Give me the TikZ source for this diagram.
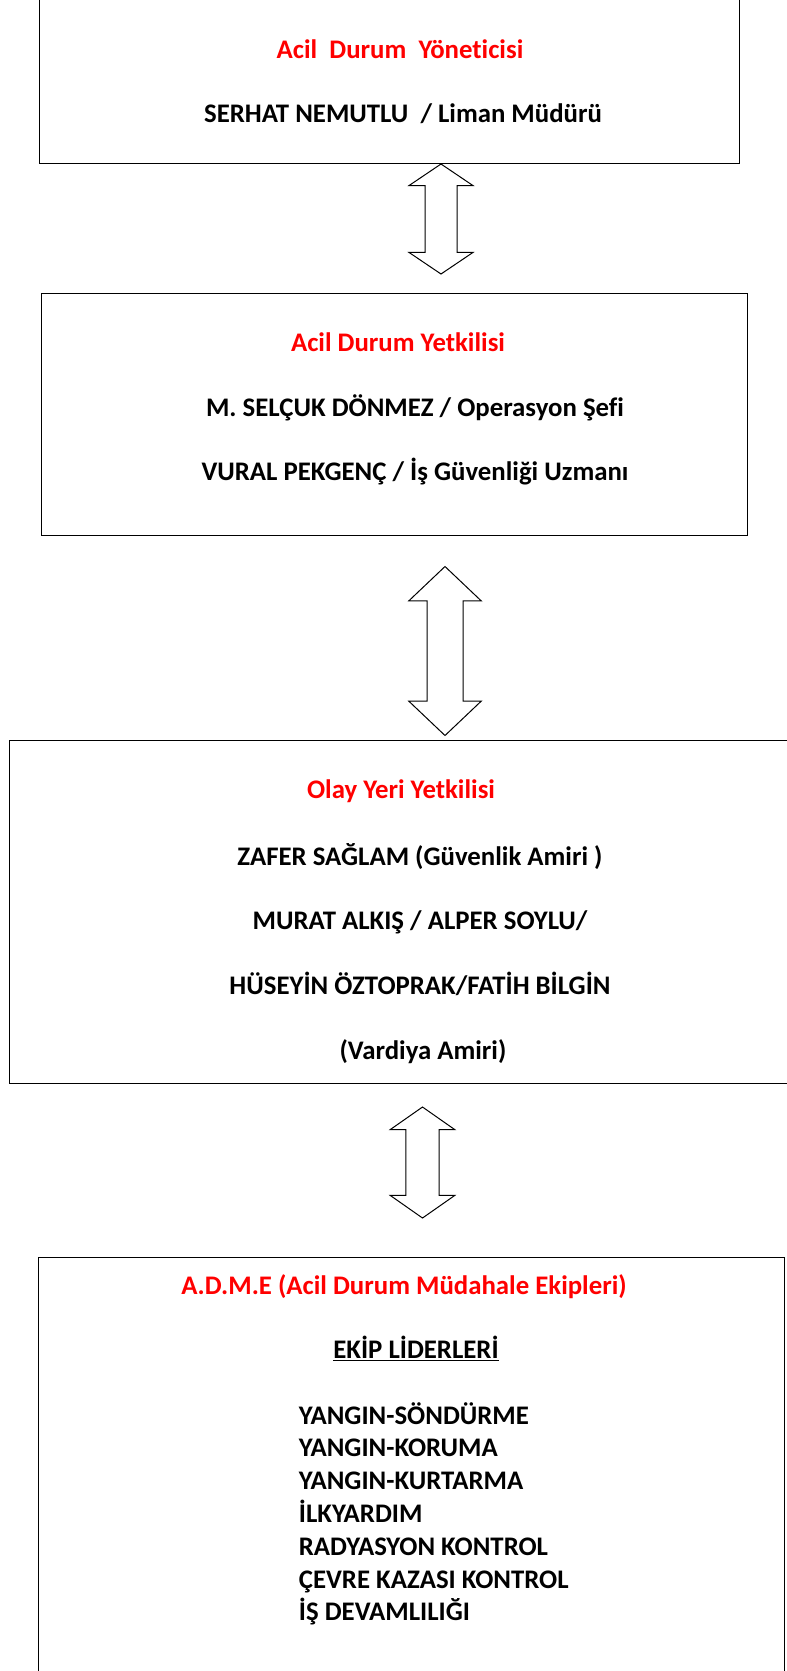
\documentclass[tikz,border=0pt]{standalone}
\usepackage{fontspec}
\setmainfont{Carlito}[Ligatures=NoCommon]
\usetikzlibrary{shapes.arrows}

\begin{document}
\begin{tikzpicture}[
  x=1pt, y=-1pt,
  font=\fontsize{26.8}{32.8}\selectfont\bfseries,
  box/.style={draw, line width=1pt, inner sep=0pt},
  heading/.style={text=red, anchor=base},
  entry/.style={anchor=base},
  dbl/.style={draw, line width=1pt, shape=double arrow, rotate=90,
              minimum width=0pt, inner sep=#1}
]
\useasboundingbox (0,0) rectangle (787,1671);
% frames
\node[box, minimum width=699.8pt, minimum height=168pt] (yonetici) at (389.1,79) {};
\node[box, minimum width=706pt, minimum height=242pt] (yetkili) at (394,414.6) {};
\node[box, minimum width=781pt, minimum height=342.3pt] (olayyeri) at (399.5,911.9) {};
\node[box, minimum width=745.3pt, minimum height=423pt] (adme) at (411.4,1468.5) {};
% texts
\node[heading] (yontit) at (400,58) {Acil\ \ Durum\ \ Yöneticisi};
\node[entry] (serhat) at (403,122) {SERHAT NEMUTLU\ \ / Liman Müdürü};
\node[heading] (yettit) at (398,351) {Acil Durum Yetkilisi};
\node[entry] (selcuk) at (415,416) {M. SELÇUK DÖNMEZ / Operasyon Şefi};
\node[entry] (vural) at (415,480) {VURAL PEKGENÇ / İş Güvenliği Uzmanı};
\node[heading] (olaytit) at (401,798) {Olay Yeri Yetkilisi};
\node[entry] (zafer) at (420,865) {ZAFER SAĞLAM (Güvenlik Amiri )};
\node[entry] (murat) at (420,929) {MURAT ALKIŞ / ALPER SOYLU/};
\node[entry] (huseyin) at (420,994) {HÜSEYİN ÖZTOPRAK/FATİH BİLGİN};
\node[entry] (vardiya) at (423,1059) {(Vardiya Amiri)};
\node[heading] (admetit) at (404,1294.5) {A.D.M.E (Acil Durum Müdahale Ekipleri)};
\node[entry] (lider) at (416,1358.5) {\underline{EKİP LİDERLERİ}};
% base of a multi-line node is its last line
\node[entry, anchor=base west, align=left, inner sep=0pt] (ekipler) at (298.7,1620.8)
  {YANGIN-SÖNDÜRME\\ YANGIN-KORUMA\\ YANGIN-KURTARMA\\ İLKYARDIM\\
   RADYASYON KONTROL\\ ÇEVRE KAZASI KONTROL\\ İŞ DEVAMLILIĞI};
% double arrows
\node[dbl=15.5pt, double arrow head extend=16pt, double arrow tip angle=112,
      minimum height=110pt] (ok1) at (441,219) {};
\node[dbl=17.5pt, double arrow head extend=18.25pt, double arrow tip angle=93,
      minimum height=169pt] (ok2) at (445,651) {};
\node[dbl=16.2pt, double arrow head extend=15.5pt, double arrow tip angle=110,
      minimum height=111pt] (ok3) at (422.5,1162.5) {};
\end{tikzpicture}
\end{document}
